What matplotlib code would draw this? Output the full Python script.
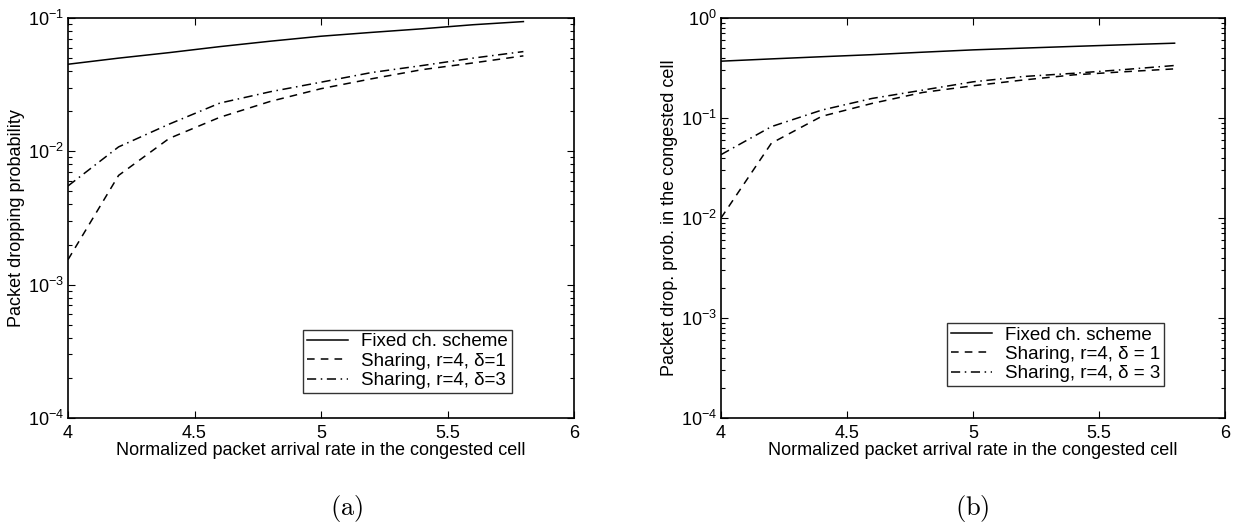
import numpy as np
import matplotlib
matplotlib.use("Agg")
import matplotlib.pyplot as plt
from matplotlib.ticker import LogLocator, FixedLocator

plt.rcParams['font.family'] = ['Liberation Sans', 'DejaVu Sans']
plt.rcParams['mathtext.fontset'] = 'custom'
plt.rcParams['mathtext.rm'] = 'Liberation Sans'
plt.rcParams['mathtext.it'] = 'Liberation Sans'
plt.rcParams['mathtext.default'] = 'regular'

# arrival rate
rate = [4.0, 4.2, 4.4, 4.6, 4.8, 5.0, 5.2, 5.4, 5.6, 5.8]

# (a) packet dropping probability
a_fixed = [0.045, 0.050, 0.055, 0.061, 0.067, 0.073, 0.078, 0.083, 0.089, 0.094]
a_d1 = [0.00154, 0.0066, 0.0125, 0.018, 0.0237, 0.0295, 0.035, 0.041, 0.046, 0.052]
a_d3 = [0.0055, 0.0108, 0.016, 0.023, 0.028, 0.033, 0.039, 0.044, 0.050, 0.056]

# (b) packet drop prob. in the congested cell
b_fixed = [0.37, 0.39, 0.41, 0.43, 0.455, 0.48, 0.50, 0.52, 0.54, 0.56]
b_d1 = [0.010, 0.056, 0.104, 0.14, 0.18, 0.21, 0.24, 0.27, 0.29, 0.31]
b_d3 = [0.043, 0.082, 0.12, 0.157, 0.19, 0.23, 0.26, 0.28, 0.305, 0.335]

W, H = 1239, 529
fig = plt.figure(figsize=(W / 100, H / 100), dpi=100)

def style_axes(ax, ytop):
    ax.set_yscale('log')
    ax.set_xlim(4, 6)
    ax.set_ylim(1e-4, ytop)
    ax.xaxis.set_major_locator(FixedLocator([4, 4.5, 5, 5.5, 6]))
    ax.set_xticklabels(['4', '4.5', '5', '5.5', '6'])
    ax.yaxis.set_major_locator(LogLocator(base=10, numticks=10))
    ax.yaxis.set_minor_locator(LogLocator(base=10, subs=np.arange(2, 10), numticks=10))
    ax.tick_params(which='both', direction='in', top=True, right=True, labelsize=13)
    ax.tick_params(which='major', length=5, width=0.8)
    ax.tick_params(which='minor', length=3, width=0.8)
    ax.tick_params(axis='x', pad=5)
    ax.tick_params(axis='y', pad=3)
    for s in ax.spines.values():
        s.set_linewidth(1.2)

def add_legend(ax, x1, y0):
    leg = ax.legend(loc='lower right', bbox_to_anchor=(x1, y0),
                    fontsize=13.5, frameon=True, fancybox=False, edgecolor='k',
                    borderpad=0.2, labelspacing=0.12, handlelength=2.2,
                    handletextpad=0.7, borderaxespad=0)
    leg.get_frame().set_linewidth(1.0)
    return leg

ax1 = fig.add_axes([68 / W, 1 - 418 / H, 506 / W, 400 / H])
ax1.plot(rate, a_fixed, 'k-', lw=1.1, label='Fixed ch. scheme')
ax1.plot(rate, a_d1, 'k--', lw=1.1, dashes=(5, 4), label='Sharing, r=4, δ=1')
ax1.plot(rate, a_d3, 'k-.', lw=1.1, dashes=(6, 3, 1, 3), label='Sharing, r=4, δ=3')
style_axes(ax1, 1e-1)
ax1.set_xlabel('Normalized packet arrival rate in the congested cell', fontsize=13, labelpad=0)
ax1.set_ylabel('Packet dropping probability', fontsize=13, labelpad=2)
add_legend(ax1, 0.877, 0.0625)

ax2 = fig.add_axes([721 / W, 1 - 418 / H, 504 / W, 400 / H])
ax2.plot(rate, b_fixed, 'k-', lw=1.1, label='Fixed ch. scheme')
ax2.plot(rate, b_d1, 'k--', lw=1.1, dashes=(5, 4), label='Sharing, r=4, δ = 1')
ax2.plot(rate, b_d3, 'k-.', lw=1.1, dashes=(6, 3, 1, 3), label='Sharing, r=4, δ = 3')
style_axes(ax2, 1e0)
ax2.set_xlabel('Normalized packet arrival rate in the congested cell', fontsize=13, labelpad=0)
ax2.set_ylabel('Packet drop. prob. in the congested cell', fontsize=13, labelpad=2)
add_legend(ax2, 0.879, 0.08)

fig.text(347 / W, 1 - 508 / H, r'$\mathrm{(a)}$', math_fontfamily='cm', fontsize=19,
         ha='center', va='center')
fig.text(972 / W, 1 - 508 / H, r'$\mathrm{(b)}$', math_fontfamily='cm', fontsize=19,
         ha='center', va='center')

fig.savefig('out.png', dpi=100)
